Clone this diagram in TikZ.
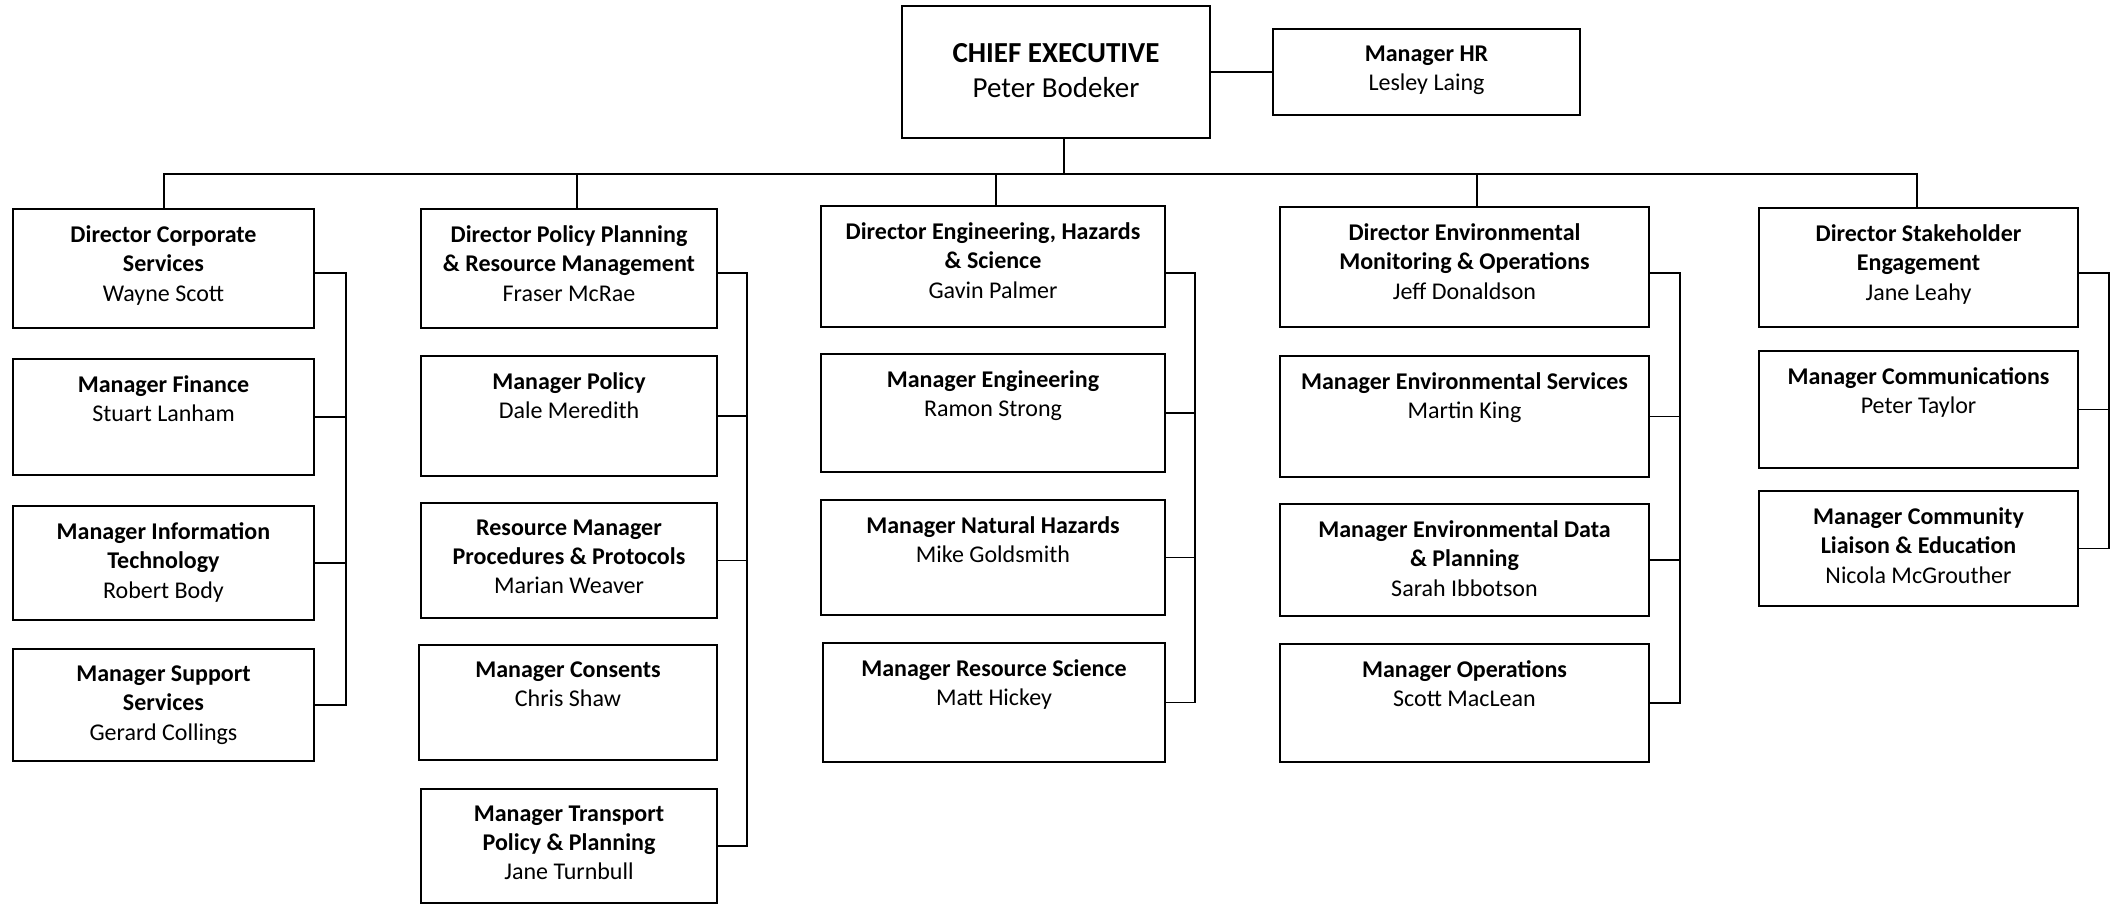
\documentclass[tikz,border=0pt]{standalone}
\usepackage{fontspec}
\setmainfont{Carlito}
\usetikzlibrary{positioning,fit}

\begin{document}
\begin{tikzpicture}[x=1pt, y=-1pt,
    post/.style={draw, line width=1.8pt, inner sep=0pt},
    who/.style={anchor=north, align=center, inner sep=0pt, font=\fontsize{24}{29.3}\selectfont, execute at begin node=\strut},
    boss/.style={who, font=\fontsize{29}{35}\selectfont},
    link/.style={line width=1.8pt}]
    \useasboundingbox (0,0) rectangle (2118,905);

    % chief executive and HR
    \node[post, fit={(902,6) (1210,138)}] (ceo) {};
    \node[boss, below=38pt of ceo.north] (ceo-t) {\textbf{CHIEF EXECUTIVE}\\Peter Bodeker};
    \node[post, fit={(1273,29) (1580,115)}] (hr) {};
    \node[who, below=17.5pt of hr.north] (hr-t) {\textbf{Manager HR}\\Lesley Laing};

    % corporate services
    \node[post, fit={(13,209) (314,328)}] (dcs) {};
    \node[who, below=17.5pt of dcs.north] (dcs-t) {\textbf{Director Corporate}\\\textbf{Services}\\Wayne Scott};
    \node[post, fit={(13,359) (314,475)}] (mfin) {};
    \node[who, below=17.5pt of mfin.north] (mfin-t) {\textbf{Manager Finance}\\Stuart Lanham};
    \node[post, fit={(13,506) (314,620)}] (mit) {};
    \node[who, below=17.5pt of mit.north] (mit-t) {\textbf{Manager Information}\\\textbf{Technology}\\Robert Body};
    \node[post, fit={(13,649) (314,761)}] (msup) {};
    \node[who, below=17.5pt of msup.north] (msup-t) {\textbf{Manager Support}\\\textbf{Services}\\Gerard Collings};

    % policy planning
    \node[post, fit={(421,209) (717,328)}] (dpp) {};
    \node[who, below=17.5pt of dpp.north] (dpp-t) {\textbf{Director Policy Planning}\\\textbf{\& Resource Management}\\Fraser McRae};
    \node[post, fit={(421,356) (717,476)}] (mpol) {};
    \node[who, below=17.5pt of mpol.north] (mpol-t) {\textbf{Manager Policy}\\Dale Meredith};
    \node[post, fit={(421,503) (717,618)}] (rmp) {};
    \node[who, below=17.5pt of rmp.north] (rmp-t) {\textbf{Resource Manager}\\\textbf{Procedures \& Protocols}\\Marian Weaver};
    \node[post, fit={(419,645) (717,760)}] (mcon) {};
    \node[who, below=17.5pt of mcon.north] (mcon-t) {\textbf{Manager Consents}\\Chris Shaw};
    \node[post, fit={(421,789) (717,903)}] (mtpp) {};
    \node[who, below=17.5pt of mtpp.north] (mtpp-t) {\textbf{Manager Transport}\\\textbf{Policy \& Planning}\\Jane Turnbull};

    % engineering, hazards
    \node[post, fit={(821,206) (1165,327)}] (deh) {};
    \node[who, below=17.5pt of deh.north] (deh-t) {\textbf{Director Engineering, Hazards}\\\textbf{\& Science}\\Gavin Palmer};
    \node[post, fit={(821,354) (1165,472)}] (meng) {};
    \node[who, below=17.5pt of meng.north] (meng-t) {\textbf{Manager Engineering}\\Ramon Strong};
    \node[post, fit={(821,500) (1165,615)}] (mnh) {};
    \node[who, below=17.5pt of mnh.north] (mnh-t) {\textbf{Manager Natural Hazards}\\Mike Goldsmith};
    \node[post, fit={(823,643) (1165,762)}] (mrs) {};
    \node[who, below=17.5pt of mrs.north] (mrs-t) {\textbf{Manager Resource Science}\\Matt Hickey};

    % environmental monitoring
    \node[post, fit={(1280,207) (1649,327)}] (dem) {};
    \node[who, below=17.5pt of dem.north] (dem-t) {\textbf{Director Environmental}\\\textbf{Monitoring \& Operations}\\Jeff Donaldson};
    \node[post, fit={(1280,356) (1649,477)}] (mes) {};
    \node[who, below=17.5pt of mes.north] (mes-t) {\textbf{Manager Environmental Services}\\Martin King};
    \node[post, fit={(1280,504) (1649,616)}] (med) {};
    \node[who, below=17.5pt of med.north] (med-t) {\textbf{Manager Environmental Data}\\\textbf{\& Planning}\\Sarah Ibbotson};
    \node[post, fit={(1280,644) (1649,762)}] (mops) {};
    \node[who, below=17.5pt of mops.north] (mops-t) {\textbf{Manager Operations}\\Scott MacLean};

    % stakeholder engagement
    \node[post, fit={(1759,208) (2078,327)}] (dse) {};
    \node[who, below=17.5pt of dse.north] (dse-t) {\textbf{Director Stakeholder}\\\textbf{Engagement}\\Jane Leahy};
    \node[post, fit={(1759,351) (2078,468)}] (mcm) {};
    \node[who, below=17.5pt of mcm.north] (mcm-t) {\textbf{Manager Communications}\\Peter Taylor};
    \node[post, fit={(1759,491) (2078,606)}] (mcl) {};
    \node[who, below=17.5pt of mcl.north] (mcl-t) {\textbf{Manager Community}\\\textbf{Liaison \& Education}\\Nicola McGrouther};

    % bus under the chief executive
    \coordinate (b0) at (1064,174);
    \coordinate (b1) at (164,174);
    \coordinate (b2) at (577,174);
    \coordinate (b3) at (996,174);
    \coordinate (b4) at (1477,174);
    \coordinate (b5) at (1917,174);
    \draw[link] (ceo.east) -- (hr.west);
    \draw[link] (b0 |- ceo.south) -- (b0);
    \draw[link] (b1 |- dcs.north) -- (b1) -- (b5) -- (b5 |- dse.north);
    \draw[link] (b2) -- (b2 |- dpp.north);
    \draw[link] (b3) -- (b3 |- deh.north);
    \draw[link] (b4) -- (b4 |- dem.north);

    % side rails
    \coordinate (r1) at (346,273);
    \coordinate (r2) at (747,273);
    \coordinate (r3) at (1195,273);
    \coordinate (r4) at (1680,273);
    \coordinate (r5) at (2109,273);
    \draw[link] (r1 -| dcs.east) -- (r1) |- (msup.east);
    \draw[link] (mfin.east) -- (mfin.east -| r1);
    \draw[link] (mit.east) -- (mit.east -| r1);
    \draw[link] (r2 -| dpp.east) -- (r2) |- (mtpp.east);
    \draw[link] (mpol.east) -- (mpol.east -| r2);
    \draw[link] (rmp.east) -- (rmp.east -| r2);
    \draw[link] (r3 -| deh.east) -- (r3) |- (mrs.east);
    \draw[link] (meng.east) -- (meng.east -| r3);
    \draw[link] (mnh.east) -- (mnh.east -| r3);
    \draw[link] (r4 -| dem.east) -- (r4) |- (mops.east);
    \draw[link] (mes.east) -- (mes.east -| r4);
    \draw[link] (med.east) -- (med.east -| r4);
    \draw[link] (r5 -| dse.east) -- (r5) |- (mcl.east);
    \draw[link] (mcm.east) -- (mcm.east -| r5);
\end{tikzpicture}
\end{document}
